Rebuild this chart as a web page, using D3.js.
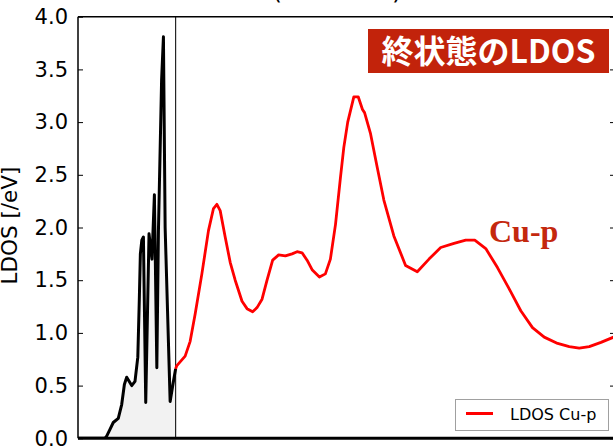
<!DOCTYPE html>
<html>
<head>
<meta charset="utf-8">
<script src="https://cdn.jsdelivr.net/npm/d3@7"></script>
<style>
  html, body { margin: 0; padding: 0; background: #fff; }
  svg { display: block; }
</style>
</head>
<body>
<svg id="chart" width="613" height="448"></svg>
<script>
// Occupied states (below the Fermi level), black curve with shaded area
const occEnergy = [-8.00, -5.79, -5.65, -5.38, -5.11, -4.70, -4.42, -4.20, -4.01, -3.60, -3.33, -3.10,
  -2.98, -2.89, -2.77, -2.64, -2.45, -2.18, -1.94, -1.74, -1.54, -1.41, -1.15, -1.00, -0.86, -0.45, -0.21, 0.00];
const occLDOS = [0, 0, 0.02, 0.085, 0.15, 0.19, 0.32, 0.51, 0.58, 0.50, 0.54, 0.77,
  1.30, 1.75, 1.88, 1.91, 0.34, 1.94, 1.70, 2.31, 0.67, 1.97, 3.40, 3.81, 2.00, 0.35, 0.52, 0.66];

// Final-state Cu-p LDOS (above the Fermi level), red curve
const finEnergy = [0.00, 0.10, 0.78, 1.19, 1.60, 2.15, 2.69, 3.10, 3.38, 3.65, 4.06, 4.47, 4.88, 5.44,
  5.85, 6.31, 6.67, 7.08, 7.49, 7.95, 8.44, 8.99, 9.54, 9.95, 10.36, 10.77, 11.18, 11.78, 12.27, 12.68,
  13.10, 13.51, 13.78, 14.10, 14.60, 14.96, 15.31, 15.48, 15.97, 16.52, 17.06, 17.88, 18.84, 19.80,
  20.76, 21.72, 22.81, 23.77, 24.51, 25.41, 26.37, 27.32, 28.28, 29.24, 30.20, 31.30, 32.25, 33.07,
  33.89, 34.85, 35.89, 36.60];
const finLDOS = [0.66, 0.69, 0.78, 0.92, 1.18, 1.56, 1.97, 2.18, 2.22, 2.16, 1.91, 1.67, 1.50, 1.30,
  1.23, 1.20, 1.24, 1.32, 1.50, 1.69, 1.74, 1.73, 1.75, 1.77, 1.76, 1.69, 1.60, 1.53, 1.56, 1.70,
  2.03, 2.48, 2.76, 3.00, 3.24, 3.24, 3.12, 3.09, 2.89, 2.57, 2.26, 1.92, 1.64, 1.58,
  1.70, 1.81, 1.85, 1.88, 1.88, 1.80, 1.62, 1.42, 1.21, 1.05, 0.96, 0.90, 0.87, 0.855,
  0.87, 0.91, 0.96, 1.00];

const yTicks = [0.0, 0.5, 1.0, 1.5, 2.0, 2.5, 3.0, 3.5, 4.0];
const yLabel = "LDOS [/eV]";
const titleText = "(Cu LDOS)";
const badgeText = "終状態のLDOS";
const curveLabel = "Cu-p";
const legendLabel = "LDOS Cu-p";

const svg = d3.select("#chart");
const padL = 78, padR = 615, padT = 16.7, padB = 438.3;

const x = d3.scaleLinear().domain([-8, 36]).range([padL, padR]);
const y = d3.scaleLinear().domain([0, 4]).range([padB, padT]);

svg.append("defs").append("clipPath").attr("id", "plotClip")
  .append("rect").attr("x", padL).attr("y", padT).attr("width", padR - padL).attr("height", padB - padT);

// Title above the axes (mostly outside the visible frame)
svg.append("text")
  .attr("x", 337).attr("y", -1.5)
  .attr("text-anchor", "middle")
  .attr("font-family", "DejaVu Sans")
  .attr("font-size", 25)
  .attr("fill", "#000")
  .text(titleText);

const occ = occEnergy.map((e, i) => [e, occLDOS[i]]);
const fin = finEnergy.map((e, i) => [e, finLDOS[i]]);

const plot = svg.append("g").attr("clip-path", "url(#plotClip)");

// shaded occupied area
plot.append("path")
  .datum(occ)
  .attr("d", d3.area().x(d => x(d[0])).y0(y(0)).y1(d => y(d[1])))
  .attr("fill", "#f2f2f2");

// Fermi level
plot.append("line")
  .attr("x1", x(0)).attr("x2", x(0))
  .attr("y1", padT).attr("y2", padB)
  .attr("stroke", "#111").attr("stroke-width", 1.1);

plot.append("path")
  .datum(occ)
  .attr("d", d3.line().x(d => x(d[0])).y(d => y(d[1])))
  .attr("fill", "none")
  .attr("stroke", "#000")
  .attr("stroke-width", 3)
  .attr("stroke-linejoin", "round");

plot.append("path")
  .datum(fin)
  .attr("d", d3.line().x(d => x(d[0])).y(d => y(d[1])))
  .attr("fill", "none")
  .attr("stroke", "#ff0000")
  .attr("stroke-width", 2.8)
  .attr("stroke-linejoin", "round");

// Spines
svg.append("line").attr("x1", padL).attr("x2", padR + 2).attr("y1", padT).attr("y2", padT)
  .attr("stroke", "#000").attr("stroke-width", 1.6);
svg.append("line").attr("x1", padL).attr("x2", padR + 2).attr("y1", padB).attr("y2", padB)
  .attr("stroke", "#000").attr("stroke-width", 3);
svg.append("line").attr("x1", padL).attr("x2", padL).attr("y1", padT).attr("y2", padB)
  .attr("stroke", "#000").attr("stroke-width", 1.5);
svg.append("line").attr("x1", padR).attr("x2", padR).attr("y1", padT).attr("y2", padB)
  .attr("stroke", "#000").attr("stroke-width", 1.5);

// Left axis: inward ticks
const yAxis = d3.axisLeft(y).tickValues(yTicks).tickFormat(d3.format(".1f")).tickSizeInner(-5).tickSizeOuter(0).tickPadding(10);
const gy = svg.append("g").attr("transform", `translate(${padL},0)`).call(yAxis);
gy.select(".domain").remove();
gy.selectAll(".tick line").attr("stroke", "#000").attr("stroke-width", 1);
gy.selectAll(".tick text")
  .attr("font-family", "DejaVu Sans")
  .attr("font-size", 21)
  .attr("fill", "#000");

// Right axis ticks (inward), no labels
const yAxisR = d3.axisRight(y).tickValues(yTicks).tickFormat("").tickSizeInner(-5).tickSizeOuter(0);
const gr = svg.append("g").attr("transform", `translate(${padR},0)`).call(yAxisR);
gr.select(".domain").remove();
gr.selectAll(".tick line").attr("stroke", "#000").attr("stroke-width", 1);

// Y label
svg.append("text")
  .attr("transform", `translate(17,${(padT + padB) / 2 - 2}) rotate(-90)`)
  .attr("text-anchor", "middle")
  .attr("font-family", "DejaVu Sans")
  .attr("font-size", 21.5)
  .attr("fill", "#000")
  .text(yLabel);

// Badge
svg.append("rect").attr("x", 368).attr("y", 29).attr("width", 241).attr("height", 44).attr("fill", "#c2230b");
svg.append("text")
  .attr("x", 488.5).attr("y", 62.5)
  .attr("text-anchor", "middle")
  .attr("font-family", "Noto Sans CJK JP")
  .attr("font-weight", "bold")
  .attr("font-size", 32)
  .attr("fill", "#fff")
  .text(badgeText);

// Curve annotation
svg.append("text")
  .attr("x", 489).attr("y", 241.5)
  .attr("font-family", "Liberation Serif")
  .attr("font-weight", "bold")
  .attr("font-size", 32)
  .attr("fill", "#c4280e")
  .text(curveLabel);

// Legend
const lg = svg.append("g");
lg.append("rect").attr("x", 455.5).attr("y", 399.5).attr("width", 153).attr("height", 31)
  .attr("fill", "#fff").attr("stroke", "#a0a0a0").attr("stroke-width", 1);
lg.append("line").attr("x1", 466).attr("x2", 493).attr("y1", 413.5).attr("y2", 413.5)
  .attr("stroke", "#ff0000").attr("stroke-width", 3);
lg.append("text").attr("x", 510).attr("y", 419.5)
  .attr("font-family", "DejaVu Sans").attr("font-size", 16).attr("fill", "#000")
  .text(legendLabel);
</script>
</body>
</html>
